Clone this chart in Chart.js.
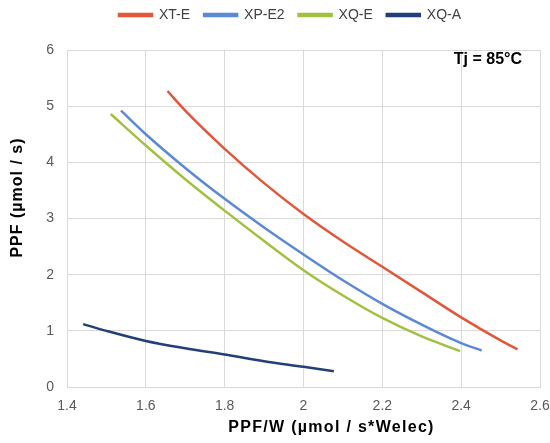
<!DOCTYPE html>
<html>
<head>
<meta charset="utf-8">
<script src="https://cdn.jsdelivr.net/npm/chart.js@4/dist/chart.umd.min.js"></script>
<style>
  html, body { margin: 0; padding: 0; background: #fff; }
  #box { width: 550px; height: 443px; }
</style>
</head>
<body>
<div id="box"><canvas id="myChart"></canvas></div>
<script>
const seriesNames = ['XT-E', 'XP-E2', 'XQ-E', 'XQ-A'];

const xtE_x = [1.655, 1.7, 1.8, 1.9, 2.0, 2.1, 2.2, 2.3, 2.4, 2.5, 2.543];
const xtE_y = [5.27, 4.92, 4.24, 3.63, 3.08, 2.59, 2.14, 1.69, 1.24, 0.83, 0.67];

const xpE2_x = [1.537, 1.6, 1.7, 1.8, 1.9, 2.0, 2.1, 2.2, 2.3, 2.4, 2.452];
const xpE2_y = [4.92, 4.5, 3.9, 3.35, 2.84, 2.36, 1.9, 1.48, 1.11, 0.78, 0.65];

const xqE_x = [1.511, 1.6, 1.7, 1.8, 1.9, 2.0, 2.1, 2.2, 2.3, 2.397];
const xqE_y = [4.86, 4.3, 3.7, 3.14, 2.6, 2.08, 1.63, 1.23, 0.9, 0.64];

const xqA_x = [1.441, 1.5, 1.6, 1.7, 1.8, 1.9, 2.0, 2.077];
const xqA_y = [1.12, 1.0, 0.82, 0.69, 0.58, 0.46, 0.36, 0.28];

const xTickLabels = ['1.4', '1.6', '1.8', '2', '2.2', '2.4', '2.6'];
const yTickLabels = ['0', '1', '2', '3', '4', '5', '6'];

const xTitle = 'PPF/W (µmol / s*Welec)';
const yTitle = 'PPF (µmol / s)';
const note = 'Tj = 85°C';

const colors = ['#e2573a', '#5b8ad4', '#a2c13f', '#233f78'];

const FONT = '"Liberation Sans", Arial, sans-serif';

function toPoints(xs, ys) {
  return xs.map((x, i) => ({ x: x, y: ys[i] }));
}

const seriesData = [
  toPoints(xtE_x, xtE_y),
  toPoints(xpE2_x, xpE2_y),
  toPoints(xqE_x, xqE_y),
  toPoints(xqA_x, xqA_y),
];

// legend: a bit more room below it, drawn higher and shifted right
const legendSpace = {
  id: 'legendSpace',
  beforeInit(chart) {
    const origFit = chart.legend.fit;
    chart.legend.fit = function () {
      origFit.call(this);
      this.height = 50;
    };
  },
  afterLayout(chart) {
    chart.legend.left += 36;
    chart.legend.top -= 6;
  },
};

// axis titles (placed off-centre like the original) and the Tj note
const textPlugin = {
  id: 'texts',
  afterDraw(chart) {
    const { ctx, chartArea } = chart;
    const midX = (chartArea.left + chartArea.right) / 2;
    const midY = (chartArea.top + chartArea.bottom) / 2;
    ctx.save();
    ctx.fillStyle = '#000';
    ctx.textAlign = 'center';
    ctx.textBaseline = 'middle';
    ctx.font = 'bold 16px ' + FONT;
    ctx.letterSpacing = '1.3px';
    ctx.fillText(xTitle, midX + 28, chart.height - 15);

    ctx.letterSpacing = '1px';
    ctx.translate(18, midY - 21);
    ctx.rotate(-Math.PI / 2);
    ctx.fillText(yTitle, 0, 0);
    ctx.restore();

    ctx.save();
    ctx.font = 'bold 16px ' + FONT;
    ctx.fillStyle = '#000';
    ctx.textAlign = 'right';
    ctx.textBaseline = 'middle';
    ctx.fillText(note, chartArea.right - 18, chartArea.top + 10);
    ctx.restore();
  },
};

new Chart(document.getElementById('myChart'), {
  type: 'line',
  data: {
    datasets: seriesNames.map((name, i) => ({
      label: name,
      data: seriesData[i],
      borderColor: colors[i],
      backgroundColor: colors[i],
      borderWidth: 2.5,
      pointRadius: 0,
      cubicInterpolationMode: 'monotone',
      fill: false,
    })),
  },
  options: {
    responsive: true,
    maintainAspectRatio: false,
    animation: false,
    layout: { padding: { left: 4, right: 10, top: 0, bottom: 2 } },
    plugins: {
      legend: {
        position: 'top',
        labels: {
          boxWidth: 33,
          boxHeight: 2,
          padding: 14,
          color: '#404040',
          font: { family: FONT, size: 14 },
        },
      },
      tooltip: { enabled: false },
    },
    scales: {
      x: {
        type: 'linear',
        min: 1.4,
        max: 2.6,
        afterFit: (scale) => {
          scale.height = 54;
          scale.paddingLeft = 0;
          scale.paddingRight = 0;
        },
        ticks: {
          stepSize: 0.2,
          padding: 11,
          color: '#595959',
          font: { family: FONT, size: 14 },
          callback: (v) => xTickLabels[Math.round((v - 1.4) / 0.2)],
        },
        grid: { color: '#d9d9d9', drawTicks: false },
        border: { color: '#d9d9d9' },
      },
      y: {
        min: 0,
        max: 6,
        afterFit: (scale) => {
          scale.width = 63;
          scale.paddingTop = 0;
          scale.paddingBottom = 0;
        },
        ticks: {
          stepSize: 1,
          color: '#595959',
          padding: 13,
          font: { family: FONT, size: 14 },
          callback: (v) => yTickLabels[v],
        },
        grid: { color: '#d9d9d9', drawTicks: false },
        border: { color: '#d9d9d9' },
      },
    },
  },
  plugins: [legendSpace, textPlugin],
});
</script>
</body>
</html>
